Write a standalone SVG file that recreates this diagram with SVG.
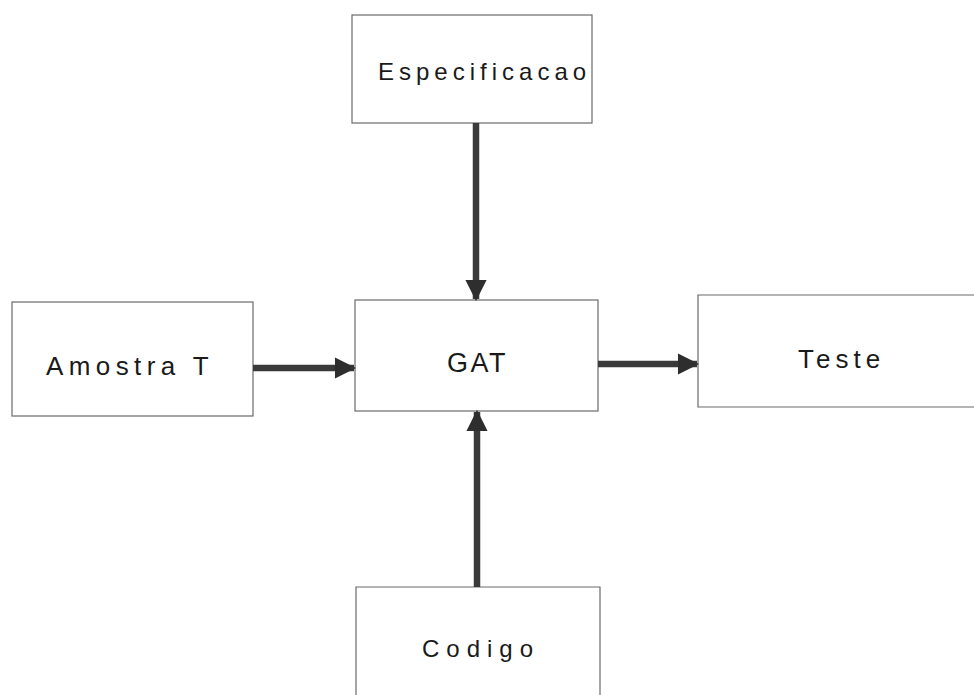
<svg xmlns="http://www.w3.org/2000/svg" width="974" height="695" viewBox="0 0 974 695">
  <style>
    .box { fill: #ffffff; stroke: #6a6a6a; stroke-width: 1.2; }
    .label { font-family: "Liberation Sans", Arial, sans-serif; fill: #1a1a1a; }
    .flow { stroke: #3a3a3a; stroke-width: 6.5; fill: none; }
  </style>
  <defs>
    <marker id="head" viewBox="0 0 10 10" refX="9" refY="5" markerWidth="3.3" markerHeight="3.3" orient="auto" markerUnits="strokeWidth">
      <path d="M0,0 L10,5 L0,10 z" fill="#2e2e2e"/>
    </marker>
  </defs>
  <rect width="974" height="695" fill="#ffffff"/>

  <g id="especificacao">
    <rect class="box" x="352" y="15" width="240" height="108"/>
    <text class="label" x="378" y="80" font-size="24" letter-spacing="5">Especificacao</text>
  </g>

  <g id="amostra">
    <rect class="box" x="12" y="302" width="241" height="114"/>
    <text class="label" x="46" y="375" font-size="26" letter-spacing="5.4">Amostra T</text>
  </g>

  <g id="gat">
    <rect class="box" x="355" y="300" width="243" height="111"/>
    <text class="label" x="447" y="372" font-size="27" letter-spacing="2.5">GAT</text>
  </g>

  <g id="teste">
    <path class="box" d="M980,295 L698,295 L698,407 L980,407"/>
    <text class="label" x="798" y="368" font-size="26" letter-spacing="5">Teste</text>
  </g>

  <g id="codigo">
    <path class="box" d="M356,700 L356,587 L600,587 L600,700"/>
    <text class="label" x="422" y="657" font-size="24" letter-spacing="7">Codigo</text>
  </g>

  <g id="connectors">
    <line class="flow" x1="476" y1="123" x2="476" y2="299" marker-end="url(#head)"/>
    <line class="flow" x1="477" y1="587" x2="477" y2="412" marker-end="url(#head)"/>
    <line class="flow" x1="253" y1="368" x2="354" y2="368" marker-end="url(#head)"/>
    <line class="flow" x1="598" y1="364" x2="697" y2="364" marker-end="url(#head)"/>
  </g>
</svg>
